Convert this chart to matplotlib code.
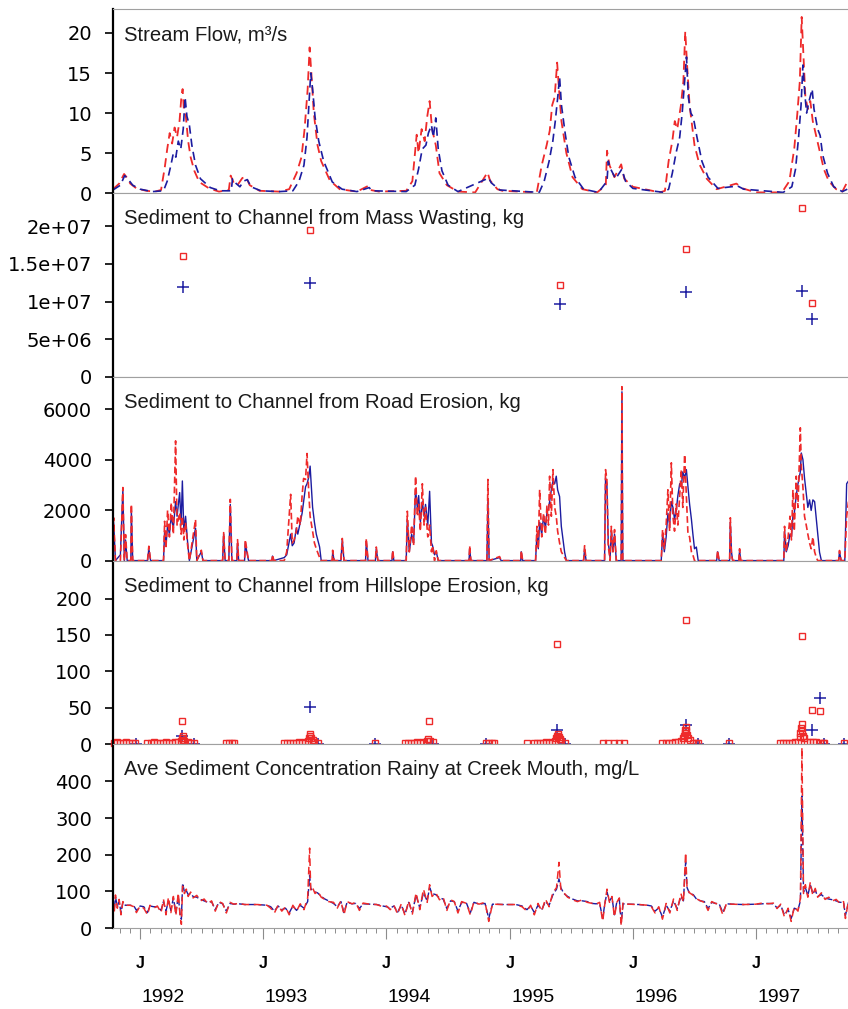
import numpy as np
import matplotlib.pyplot as plt
from matplotlib.ticker import FixedLocator, FixedFormatter, NullFormatter

RED = '#ee2a2a'
BLUE = '#1c1ca0'

# time axis in decimal years, water years 1992-1997
years = [1992, 1993, 1994, 1995, 1996, 1997]
x_start, x_end = 1991.78, 1997.746

# ---- stream flow, m3/s : (t, value) ----
flow_red = [
    (1991.78, 0.5), (1991.83, 1.2), (1991.87, 2.4), (1991.89, 2.0), (1991.92, 1.2),
    (1991.97, 0.6), (1992.05, 0.3), (1992.12, 0.2), (1992.17, 0.4), (1992.20, 3.2),
    (1992.22, 5.5), (1992.24, 7.5), (1992.26, 6.2), (1992.28, 8.2), (1992.30, 7.0),
    (1992.32, 9.0), (1992.335, 12.0), (1992.345, 13.0), (1992.355, 10.5), (1992.37, 9.8),
    (1992.39, 6.5), (1992.41, 4.5), (1992.44, 2.8), (1992.48, 1.4), (1992.56, 0.6),
    (1992.64, 0.2), (1992.72, 0.4), (1992.735, 2.2), (1992.76, 1.3), (1992.79, 1.0),
    (1992.83, 1.9), (1992.86, 2.0), (1992.89, 1.0), (1992.97, 0.3), (1993.13, 0.2),
    (1993.21, 0.5), (1993.27, 2.5), (1993.31, 4.5), (1993.335, 8.0), (1993.36, 13.0),
    (1993.376, 18.2), (1993.39, 15.0), (1993.41, 10.0), (1993.44, 6.0), (1993.47, 4.0),
    (1993.54, 1.6), (1993.62, 0.5), (1993.76, 0.2), (1993.85, 0.9), (1993.87, 0.4),
    (1993.94, 0.2), (1994.16, 0.3), (1994.21, 1.5), (1994.245, 7.3), (1994.26, 5.0),
    (1994.285, 8.0), (1994.31, 6.5), (1994.33, 9.5), (1994.35, 11.5), (1994.37, 8.0),
    (1994.40, 6.0), (1994.43, 2.5), (1994.49, 1.0), (1994.58, 0.2), (1994.72, 0.1),
    (1994.82, 2.6), (1994.84, 1.6), (1994.90, 0.5), (1994.94, 0.3), (1995.22, 0.1),
    (1995.26, 3.5), (1995.30, 6.0), (1995.325, 7.8), (1995.345, 11.0), (1995.365, 12.0),
    (1995.385, 16.3), (1995.40, 13.0), (1995.42, 9.0), (1995.46, 5.0), (1995.51, 2.0),
    (1995.59, 0.5), (1995.71, 0.1), (1995.78, 1.0), (1995.79, 5.3), (1995.81, 3.5),
    (1995.85, 2.0), (1995.905, 3.6), (1995.93, 1.8), (1996.00, 0.8), (1996.22, 0.1),
    (1996.26, 0.3), (1996.29, 4.0), (1996.32, 6.5), (1996.34, 9.0), (1996.36, 8.0),
    (1996.39, 11.0), (1996.41, 14.0), (1996.425, 20.2), (1996.44, 16.0), (1996.46, 11.0),
    (1996.50, 6.0), (1996.54, 3.6), (1996.60, 1.8), (1996.68, 0.5), (1996.84, 1.2),
    (1996.89, 0.6), (1997.00, 0.1), (1997.21, 0.1), (1997.27, 1.5), (1997.31, 5.6),
    (1997.335, 10.0), (1997.355, 14.0), (1997.37, 22.0), (1997.385, 17.0), (1997.40, 12.0),
    (1997.42, 10.5), (1997.44, 11.5), (1997.46, 9.0), (1997.49, 7.0), (1997.52, 5.0),
    (1997.55, 3.0), (1997.59, 1.5), (1997.65, 0.5), (1997.70, 0.2), (1997.74, 1.4),
]
flow_blue = [
    (1991.78, 0.4), (1991.84, 1.0), (1991.875, 2.2), (1991.90, 1.8), (1991.94, 1.0),
    (1992.00, 0.5), (1992.10, 0.2), (1992.19, 0.3), (1992.22, 1.5), (1992.25, 3.5),
    (1992.27, 5.0), (1992.29, 4.5), (1992.31, 6.5), (1992.33, 5.5), (1992.35, 8.0),
    (1992.365, 12.0), (1992.38, 9.6), (1992.40, 8.5), (1992.42, 6.0), (1992.45, 3.5),
    (1992.49, 1.8), (1992.57, 0.7), (1992.65, 0.3), (1992.74, 0.3), (1992.75, 1.8),
    (1992.78, 1.2), (1992.81, 0.8), (1992.84, 1.5), (1992.87, 1.7), (1992.90, 0.8),
    (1992.98, 0.3), (1993.13, 0.2), (1993.24, 0.3), (1993.29, 1.5), (1993.33, 3.5),
    (1993.355, 7.0), (1993.37, 11.0), (1993.385, 15.0), (1993.40, 13.0), (1993.42, 9.5),
    (1993.45, 6.5), (1993.49, 4.0), (1993.56, 1.4), (1993.64, 0.5), (1993.76, 0.2),
    (1993.86, 0.7), (1993.88, 0.3), (1994.16, 0.2), (1994.23, 1.0), (1994.26, 3.0),
    (1994.29, 5.5), (1994.32, 6.0), (1994.34, 7.5), (1994.365, 8.5), (1994.38, 7.0),
    (1994.40, 9.4), (1994.42, 5.5), (1994.45, 2.8), (1994.50, 1.0), (1994.58, 0.2),
    (1994.83, 1.9), (1994.85, 1.3), (1994.92, 0.4), (1995.24, 0.1), (1995.28, 1.5),
    (1995.32, 4.0), (1995.35, 6.5), (1995.37, 9.0), (1995.39, 12.0), (1995.405, 14.5),
    (1995.42, 11.0), (1995.45, 7.5), (1995.48, 4.5), (1995.53, 2.0), (1995.60, 0.5),
    (1995.72, 0.1), (1995.79, 1.5), (1995.80, 4.0), (1995.82, 3.0), (1995.86, 1.8),
    (1995.91, 3.0), (1995.94, 1.5), (1996.00, 0.6), (1996.25, 0.1), (1996.29, 0.5),
    (1996.32, 2.5), (1996.35, 5.0), (1996.38, 7.0), (1996.40, 10.0), (1996.42, 14.0),
    (1996.435, 17.0), (1996.45, 12.0), (1996.47, 10.0), (1996.49, 9.5), (1996.52, 7.0),
    (1996.56, 4.0), (1996.61, 2.0), (1996.69, 0.6), (1996.85, 0.9), (1996.90, 0.5),
    (1997.22, 0.1), (1997.29, 0.8), (1997.32, 3.0), (1997.345, 7.0), (1997.365, 11.0),
    (1997.38, 16.0), (1997.395, 12.5), (1997.41, 10.0), (1997.43, 11.5), (1997.455, 13.0),
    (1997.47, 10.5), (1997.50, 8.0), (1997.52, 7.2), (1997.54, 4.8), (1997.58, 2.5),
    (1997.63, 0.8), (1997.70, 0.2), (1997.74, 0.5),
]

# ---- sediment from mass wasting, kg ----
mass_red = [(1992.349, 1.60e7), (1993.376, 1.956e7), (1995.408, 1.227e7),
            (1996.434, 1.704e7), (1997.372, 2.244e7), (1997.453, 0.984e7)]
mass_blue = [(1992.349, 1.196e7), (1993.376, 1.249e7), (1995.408, 0.962e7),
             (1996.434, 1.125e7), (1997.372, 1.138e7), (1997.453, 0.763e7)]

# ---- sediment from road erosion, kg : (t, red, blue) ----
road = [
    (1991.777, 0, 0), (1991.785, 1700, 1520), (1991.80, 0, 0), (1991.84, 0, 230),
    (1991.86, 2900, 2800), (1991.872, 0, 0), (1991.882, 1030, 820), (1991.895, 0, 0),
    (1991.925, 0, 0), (1991.929, 2230, 1990), (1991.94, 0, 0), (1992.06, 0, 0),
    (1992.071, 570, 470), (1992.085, 0, 0), (1992.19, 0, 0), (1992.199, 1560, 1170),
    (1992.21, 470, 590), (1992.223, 1990, 1410), (1992.238, 940, 1050), (1992.253, 2300, 1760),
    (1992.27, 1050, 1290), (1992.288, 4750, 2340), (1992.30, 1410, 1760), (1992.321, 1900, 2700),
    (1992.333, 1050, 1410), (1992.343, 1760, 3160), (1992.355, 820, 1170), (1992.369, 1510, 1760),
    (1992.386, 590, 700), (1992.40, 0, 0), (1992.45, 1630, 1290), (1992.46, 0, 0),
    (1992.497, 410, 350), (1992.51, 0, 0), (1992.67, 0, 0), (1992.678, 1110, 1050),
    (1992.69, 0, 0), (1992.72, 0, 0), (1992.732, 2430, 2230), (1992.745, 0, 0),
    (1992.785, 0, 0), (1992.791, 830, 700), (1992.80, 0, 0), (1992.848, 0, 0),
    (1992.854, 830, 700), (1992.866, 430, 350), (1992.88, 0, 0), (1993.07, 0, 0),
    (1993.075, 230, 180), (1993.085, 0, 0), (1993.17, 0, 120), (1993.19, 350, 230),
    (1993.222, 2630, 1050), (1993.235, 700, 590), (1993.25, 820, 700), (1993.268, 1170, 1290),
    (1993.28, 1760, 1050), (1993.30, 1410, 1520), (1993.315, 2580, 1880), (1993.327, 3260, 2340),
    (1993.343, 3220, 2930), (1993.355, 4250, 3050), (1993.368, 2810, 3290), (1993.38, 1760, 3750),
    (1993.40, 1170, 2120), (1993.415, 700, 1520), (1993.43, 470, 1050), (1993.457, 120, 540),
    (1993.47, 0, 0), (1993.56, 0, 0), (1993.563, 410, 350), (1993.575, 0, 0),
    (1993.63, 0, 0), (1993.641, 880, 820), (1993.655, 0, 0), (1993.83, 0, 0),
    (1993.836, 880, 760), (1993.85, 0, 0), (1993.91, 0, 0), (1993.917, 540, 470),
    (1993.93, 0, 0), (1994.045, 0, 0), (1994.05, 410, 350), (1994.06, 0, 0),
    (1994.16, 0, 0), (1994.169, 1960, 1640), (1994.185, 350, 350), (1994.204, 1410, 1050),
    (1994.22, 590, 700), (1994.236, 3350, 2810), (1994.25, 1760, 2110), (1994.261, 2230, 2580),
    (1994.275, 1170, 1520), (1994.291, 3050, 2340), (1994.305, 1410, 1760), (1994.317, 2110, 2230),
    (1994.335, 940, 1410), (1994.35, 1410, 2750), (1994.365, 350, 700), (1994.374, 590, 590),
    (1994.39, 0, 230), (1994.404, 390, 350), (1994.42, 0, 0), (1994.67, 0, 0),
    (1994.675, 590, 470), (1994.685, 0, 0), (1994.815, 0, 0), (1994.823, 3220, 2340),
    (1994.833, 0, 0), (1994.918, 160, 120), (1994.93, 0, 0), (1995.09, 0, 0),
    (1995.094, 400, 350), (1995.105, 0, 0), (1995.21, 0, 0), (1995.221, 1360, 1050),
    (1995.232, 470, 470), (1995.243, 2810, 1520), (1995.26, 940, 1050), (1995.275, 1880, 1760),
    (1995.29, 1050, 1290), (1995.302, 2160, 1880), (1995.315, 1410, 2110), (1995.324, 3350, 2340),
    (1995.338, 1760, 2810), (1995.351, 3610, 3160), (1995.365, 2110, 3050), (1995.378, 1760, 3350),
    (1995.389, 1170, 2810), (1995.405, 700, 2540), (1995.419, 350, 1360), (1995.446, 120, 330),
    (1995.46, 0, 0), (1995.60, 0, 0), (1995.608, 590, 470), (1995.62, 0, 0),
    (1995.77, 0, 0), (1995.778, 3610, 3280), (1995.789, 3220, 3050), (1995.80, 590, 700),
    (1995.815, 0, 120), (1995.825, 1360, 1170), (1995.838, 350, 350), (1995.851, 1230, 1050),
    (1995.865, 0, 0), (1995.905, 0, 0), (1995.911, 6900, 6700), (1995.918, 0, 0),
    (1996.23, 0, 0), (1996.241, 1230, 1050), (1996.255, 470, 350), (1996.27, 1410, 940),
    (1996.284, 2810, 1880), (1996.298, 1170, 1410), (1996.312, 3880, 2340), (1996.325, 1760, 2110),
    (1996.338, 1170, 1640), (1996.352, 2250, 1990), (1996.365, 1410, 2580), (1996.38, 2580, 3050),
    (1996.393, 3610, 2930), (1996.405, 2110, 3520), (1996.42, 4210, 3280), (1996.434, 2580, 3610),
    (1996.447, 1050, 2930), (1996.46, 940, 2250), (1996.475, 350, 1640), (1996.487, 230, 1050),
    (1996.50, 0, 470), (1996.515, 0, 540), (1996.53, 0, 0), (1996.68, 0, 0),
    (1996.688, 400, 350), (1996.70, 0, 0), (1996.785, 0, 0), (1996.791, 1700, 1520),
    (1996.80, 230, 350), (1996.81, 0, 0), (1996.86, 0, 0), (1996.866, 470, 410),
    (1996.875, 0, 0), (1997.225, 0, 0), (1997.231, 1360, 1170), (1997.245, 350, 350),
    (1997.26, 940, 590), (1997.275, 1760, 1050), (1997.287, 820, 940), (1997.299, 2810, 1760),
    (1997.31, 1170, 1880), (1997.326, 3350, 2580), (1997.34, 2110, 3050), (1997.359, 5270, 3520),
    (1997.367, 3750, 4270), (1997.38, 2930, 4010), (1997.393, 1760, 3280), (1997.407, 1410, 2670),
    (1997.42, 1050, 2110), (1997.434, 700, 2410), (1997.447, 470, 1990), (1997.461, 940, 2410),
    (1997.475, 350, 2340), (1997.489, 120, 1630), (1997.50, 0, 1050), (1997.515, 0, 330),
    (1997.53, 0, 0), (1997.67, 0, 0), (1997.677, 400, 350), (1997.69, 0, 0),
    (1997.72, 0, 0), (1997.735, 1760, 3050), (1997.75, 2340, 3160),
]
road_red_square = (1993.376, -220)

# ---- sediment from hillslope erosion, kg ----
hill_red = [
    (1991.785, 2), (1991.81, 3), (1991.835, 2), (1991.86, 2), (1991.885, 3), (1991.91, 2),
    (1991.935, 2), (1991.96, 2),
    (1992.06, 2), (1992.085, 2), (1992.11, 3), (1992.135, 2), (1992.16, 2), (1992.185, 2),
    (1992.21, 3), (1992.235, 2), (1992.26, 2), (1992.285, 3), (1992.31, 3), (1992.335, 5),
    (1992.34, 8), (1992.345, 11), (1992.35, 6), (1992.36, 4), (1992.385, 3), (1992.41, 2),
    (1992.435, 2), (1992.337, 31.5),
    (1992.695, 2), (1992.72, 2), (1992.745, 2), (1992.76, 2),
    (1993.165, 2), (1993.19, 2), (1993.215, 2), (1993.24, 2), (1993.265, 2), (1993.29, 3),
    (1993.315, 2), (1993.34, 3), (1993.365, 5), (1993.37, 8), (1993.375, 11), (1993.38, 14),
    (1993.39, 9), (1993.40, 6), (1993.415, 3), (1993.44, 2),
    (1993.91, 2),
    (1994.15, 2), (1994.175, 2), (1994.20, 2), (1994.225, 2), (1994.25, 3), (1994.275, 2),
    (1994.30, 3), (1994.325, 4), (1994.34, 7), (1994.35, 5), (1994.375, 3), (1994.342, 31.5),
    (1994.805, 2), (1994.83, 2), (1994.855, 2), (1994.87, 2),
    (1995.137, 2),
    (1995.195, 2), (1995.22, 2), (1995.245, 2), (1995.27, 2), (1995.295, 3), (1995.32, 2),
    (1995.345, 3), (1995.37, 5), (1995.375, 9), (1995.385, 12), (1995.39, 14), (1995.40, 10),
    (1995.41, 7), (1995.42, 4), (1995.445, 2), (1995.381, 137),
    (1995.76, 2), (1995.80, 2), (1995.85, 2), (1995.89, 2), (1995.93, 2),
    (1996.24, 2), (1996.265, 2), (1996.29, 2), (1996.315, 2), (1996.34, 3), (1996.365, 3),
    (1996.39, 4), (1996.405, 8), (1996.415, 12), (1996.42, 16), (1996.425, 20), (1996.43, 24),
    (1996.435, 18), (1996.44, 13), (1996.45, 9), (1996.46, 6), (1996.49, 2), (1996.515, 2),
    (1996.53, 2), (1996.428, 170),
    (1996.781, 2),
    (1997.19, 2), (1997.215, 2), (1997.24, 2), (1997.265, 2), (1997.29, 2), (1997.315, 3),
    (1997.34, 3), (1997.355, 10), (1997.36, 15), (1997.365, 22), (1997.37, 28), (1997.375, 18),
    (1997.38, 12), (1997.39, 8), (1997.415, 3), (1997.44, 3), (1997.465, 3), (1997.49, 3),
    (1997.515, 2), (1997.54, 2), (1997.555, 2), (1997.369, 148), (1997.45, 47), (1997.516, 45),
    (1997.71, 2),
]
hill_blue = [
    (1991.963, 1), (1992.337, 11), (1992.44, 1), (1993.376, 51), (1993.44, 1), (1993.91, 1),
    (1994.38, 1), (1994.81, 1), (1995.381, 19), (1995.45, 1), (1996.428, 27), (1996.53, 1),
    (1996.78, 1), (1997.45, 19), (1997.516, 63), (1997.55, 1), (1997.71, 1),
]

# ---- average sediment concentration, mg/L : (t, red, blue) ----
conc = [
    (1991.78, 72, 66), (1991.79, 42, 48), (1991.80, 90, 84), (1991.815, 54, 60),
    (1991.83, 78, 72), (1991.845, 36, 42), (1991.86, 72, 70), (1991.88, 62, 62),
    (1991.92, 62, 62), (1991.95, 58, 60), (1991.97, 42, 48), (1992.00, 60, 60),
    (1992.03, 54, 58), (1992.06, 36, 42), (1992.08, 62, 60), (1992.11, 54, 58),
    (1992.14, 60, 58), (1992.17, 42, 48), (1992.19, 78, 72), (1992.21, 36, 46),
    (1992.23, 84, 74), (1992.25, 42, 48), (1992.27, 86, 82), (1992.29, 34, 42),
    (1992.31, 96, 86), (1992.325, 30, 36), (1992.335, 10, 24), (1992.345, 114, 122),
    (1992.36, 94, 98), (1992.375, 106, 102), (1992.39, 86, 91), (1992.41, 98, 94),
    (1992.43, 82, 86), (1992.46, 89, 84), (1992.49, 74, 78), (1992.52, 79, 74),
    (1992.55, 66, 70), (1992.58, 74, 72), (1992.61, 46, 50), (1992.64, 72, 70),
    (1992.67, 67, 66), (1992.70, 41, 46), (1992.73, 70, 67), (1992.76, 65, 65),
    (1992.80, 67, 66), (1992.85, 64, 64), (1992.95, 64, 64), (1993.03, 62, 62),
    (1993.06, 54, 58), (1993.09, 41, 46), (1993.12, 62, 60), (1993.15, 46, 50),
    (1993.18, 58, 54), (1993.21, 36, 41), (1993.24, 62, 60), (1993.27, 46, 48),
    (1993.30, 66, 62), (1993.33, 50, 54), (1993.36, 82, 72), (1993.376, 218, 144),
    (1993.385, 102, 108), (1993.40, 110, 102), (1993.42, 94, 98), (1993.44, 101, 96),
    (1993.47, 84, 86), (1993.50, 78, 79), (1993.53, 72, 74), (1993.57, 70, 67),
    (1993.60, 54, 58), (1993.63, 74, 72), (1993.655, 36, 42), (1993.68, 72, 70),
    (1993.72, 66, 66), (1993.75, 70, 67), (1993.78, 48, 53), (1993.81, 68, 66),
    (1993.86, 65, 65), (1993.92, 64, 64), (1993.97, 58, 60), (1994.00, 60, 58),
    (1994.03, 50, 54), (1994.06, 62, 60), (1994.09, 38, 43), (1994.12, 66, 62),
    (1994.15, 34, 38), (1994.18, 74, 70), (1994.21, 38, 43), (1994.24, 96, 90),
    (1994.27, 50, 55), (1994.30, 106, 96), (1994.33, 70, 74), (1994.35, 118, 110),
    (1994.37, 86, 94), (1994.40, 96, 91), (1994.43, 77, 82), (1994.46, 84, 79),
    (1994.49, 48, 53), (1994.52, 77, 74), (1994.55, 72, 72), (1994.58, 41, 46),
    (1994.61, 72, 70), (1994.65, 67, 67), (1994.68, 36, 41), (1994.71, 72, 70),
    (1994.75, 65, 65), (1994.80, 70, 67), (1994.83, 18, 26), (1994.86, 65, 65),
    (1994.95, 64, 64), (1995.05, 64, 64), (1995.10, 58, 60), (1995.14, 46, 50),
    (1995.17, 62, 60), (1995.20, 36, 42), (1995.23, 67, 62), (1995.26, 46, 50),
    (1995.29, 79, 72), (1995.32, 58, 62), (1995.35, 96, 90), (1995.38, 110, 106),
    (1995.40, 179, 134), (1995.415, 106, 110), (1995.44, 96, 94), (1995.47, 84, 86),
    (1995.51, 77, 79), (1995.55, 72, 74), (1995.59, 77, 74), (1995.63, 70, 72),
    (1995.67, 67, 67), (1995.70, 65, 66), (1995.73, 70, 67), (1995.755, 18, 26),
    (1995.77, 60, 62), (1995.79, 106, 98), (1995.81, 70, 74), (1995.83, 86, 84),
    (1995.85, 30, 36), (1995.87, 70, 72), (1995.89, 82, 78), (1995.905, 6, 14),
    (1995.92, 70, 66), (1995.96, 65, 65), (1996.05, 64, 64), (1996.12, 62, 62),
    (1996.15, 58, 60), (1996.18, 41, 46), (1996.21, 58, 55), (1996.24, 24, 30),
    (1996.27, 67, 62), (1996.30, 41, 46), (1996.33, 79, 74), (1996.36, 48, 53),
    (1996.39, 94, 86), (1996.41, 70, 74), (1996.428, 206, 180), (1996.44, 106, 110),
    (1996.46, 96, 94), (1996.49, 89, 91), (1996.52, 79, 77), (1996.55, 74, 74),
    (1996.58, 70, 72), (1996.61, 48, 53), (1996.64, 72, 70), (1996.67, 67, 67),
    (1996.70, 65, 66), (1996.73, 36, 42), (1996.76, 68, 66), (1996.80, 65, 65),
    (1996.90, 64, 64), (1997.00, 65, 65), (1997.05, 68, 66), (1997.10, 66, 67),
    (1997.14, 68, 66), (1997.17, 53, 55), (1997.20, 65, 62), (1997.23, 30, 36),
    (1997.26, 54, 50), (1997.285, 18, 26), (1997.31, 58, 54), (1997.34, 46, 50),
    (1997.36, 82, 74), (1997.372, 492, 360), (1997.385, 94, 98), (1997.40, 118, 110),
    (1997.42, 84, 89), (1997.44, 125, 118), (1997.46, 89, 94), (1997.48, 108, 103),
    (1997.50, 84, 86), (1997.53, 96, 91), (1997.56, 78, 82), (1997.59, 84, 79),
    (1997.62, 74, 77), (1997.65, 78, 74), (1997.68, 67, 70), (1997.71, 72, 70),
    (1997.725, 26, 34), (1997.75, 74, 70),
]

titles = [
    'Stream Flow, m\u00b3/s',
    'Sediment to Channel from Mass Wasting, kg',
    'Sediment to Channel from Road Erosion, kg',
    'Sediment to Channel from Hillslope Erosion, kg',
    'Ave Sediment Concentration Rainy at Creek Mouth, mg/L',
]
y_ticks = [
    [0, 5, 10, 15, 20],
    [0, 5e6, 1e7, 1.5e7, 2e7],
    [0, 2000, 4000, 6000],
    [0, 50, 100, 150, 200],
    [0, 100, 200, 300, 400],
]
y_tick_labels = [
    ['0', '5', '10', '15', '20'],
    ['0', '5e+06', '1e+07', '1.5e+07', '2e+07'],
    ['0', '2000', '4000', '6000'],
    ['0', '50', '100', '150', '200'],
    ['0', '100', '200', '300', '400'],
]
y_tops = [22.93, 2.44e7, 7290, 252, 501]

plt.rcParams['font.family'] = ['DejaVu Sans']

fig = plt.figure(figsize=(8.48, 10.09), dpi=100)
W, H = 848.0, 1009.0
left_px, top_px, panel_px = 113.0, 9.5, 183.7
axes = []
for i in range(5):
    bottom = 1 - (top_px + (i + 1) * panel_px) / H
    ax = fig.add_axes([left_px / W, bottom, 1 - left_px / W, panel_px / H])
    axes.append(ax)

month_ticks = np.arange(1991.75, x_end + 0.01, 1 / 12)

for i, ax in enumerate(axes):
    ax.set_xlim(x_start, x_end)
    ax.set_ylim(0, y_tops[i])
    ax.yaxis.set_major_locator(FixedLocator(y_ticks[i]))
    ax.yaxis.set_major_formatter(FixedFormatter(y_tick_labels[i]))
    ax.xaxis.set_major_locator(FixedLocator(years))
    ax.xaxis.set_minor_locator(FixedLocator(month_ticks))
    ax.xaxis.set_major_formatter(NullFormatter())
    ax.tick_params(axis='y', direction='out', length=6, width=1.2,
                   color='black', labelsize=14, pad=9)
    ax.tick_params(axis='x', which='major', direction='out', length=8,
                   width=0.8, color='#8c8c8c')
    ax.tick_params(axis='x', which='minor', direction='out', length=3.6,
                   width=0.7, color='#8c8c8c')
    ax.spines['right'].set_visible(False)
    ax.spines['left'].set_color('black')
    ax.spines['left'].set_linewidth(1.6)
    for side in ('top', 'bottom'):
        ax.spines[side].set_color('#a0a0a0')
        ax.spines[side].set_linewidth(0.8)
    ax.text(0.015, 1 - 31 / panel_px, titles[i], transform=ax.transAxes,
            ha='left', va='baseline', fontsize=14.6, family='Liberation Sans',
            color='#1a1a1a')

# stream flow
ax = axes[0]
t, v = np.array(flow_red).T
ax.plot(t, v, color=RED, lw=1.3, dashes=(5, 3))
t, v = np.array(flow_blue).T
ax.plot(t, v, color=BLUE, lw=1.2, dashes=(5, 3))

# mass wasting
ax = axes[1]
t, v = np.array(mass_red).T
ax.plot(t, v, ls='none', marker='s', ms=5, mfc='none', mec=RED, mew=1.0)
t, v = np.array(mass_blue).T
ax.plot(t, v, ls='none', marker='+', ms=8, mec=BLUE, mew=1.1)

# road erosion
ax = axes[2]
t, vr, vb = np.array(road).T
ax.plot(t, vb, color=BLUE, lw=1.0)
ax.plot(t, vr, color=RED, lw=1.2, dashes=(4, 2))
ax.plot(*road_red_square, ls='none', marker='s', ms=5, mfc='none', mec=RED,
        mew=1.0, clip_on=False)

# hillslope erosion
ax = axes[3]
t, v = np.array(hill_blue).T
ax.plot(t, v, ls='none', marker='+', ms=8, mec=BLUE, mew=1.1, clip_on=False)
t, v = np.array(hill_red).T
ax.plot(t, v, ls='none', marker='s', ms=5, mfc='none', mec=RED, mew=1.0,
        clip_on=False)

# sediment concentration
ax = axes[4]
t, vr, vb = np.array(conc).T
ax.plot(t, vb, color=BLUE, lw=1.0, dashes=(5, 2))
ax.plot(t, vr, color=RED, lw=1.1, dashes=(5, 3))

for yr in years:
    ax.annotate('J', xy=(yr, 0), xycoords=('data', 'axes fraction'),
                xytext=(0, -25.2), textcoords='offset points', ha='center',
                va='center', fontsize=11.5, fontweight='bold',
                family='Liberation Sans')
    ax.annotate(str(yr), xy=(yr, 0), xycoords=('data', 'axes fraction'),
                xytext=(1, -49.7), textcoords='offset points', ha='left',
                va='center', fontsize=14, family='Liberation Sans')

fig.savefig('out.png', dpi=100)
